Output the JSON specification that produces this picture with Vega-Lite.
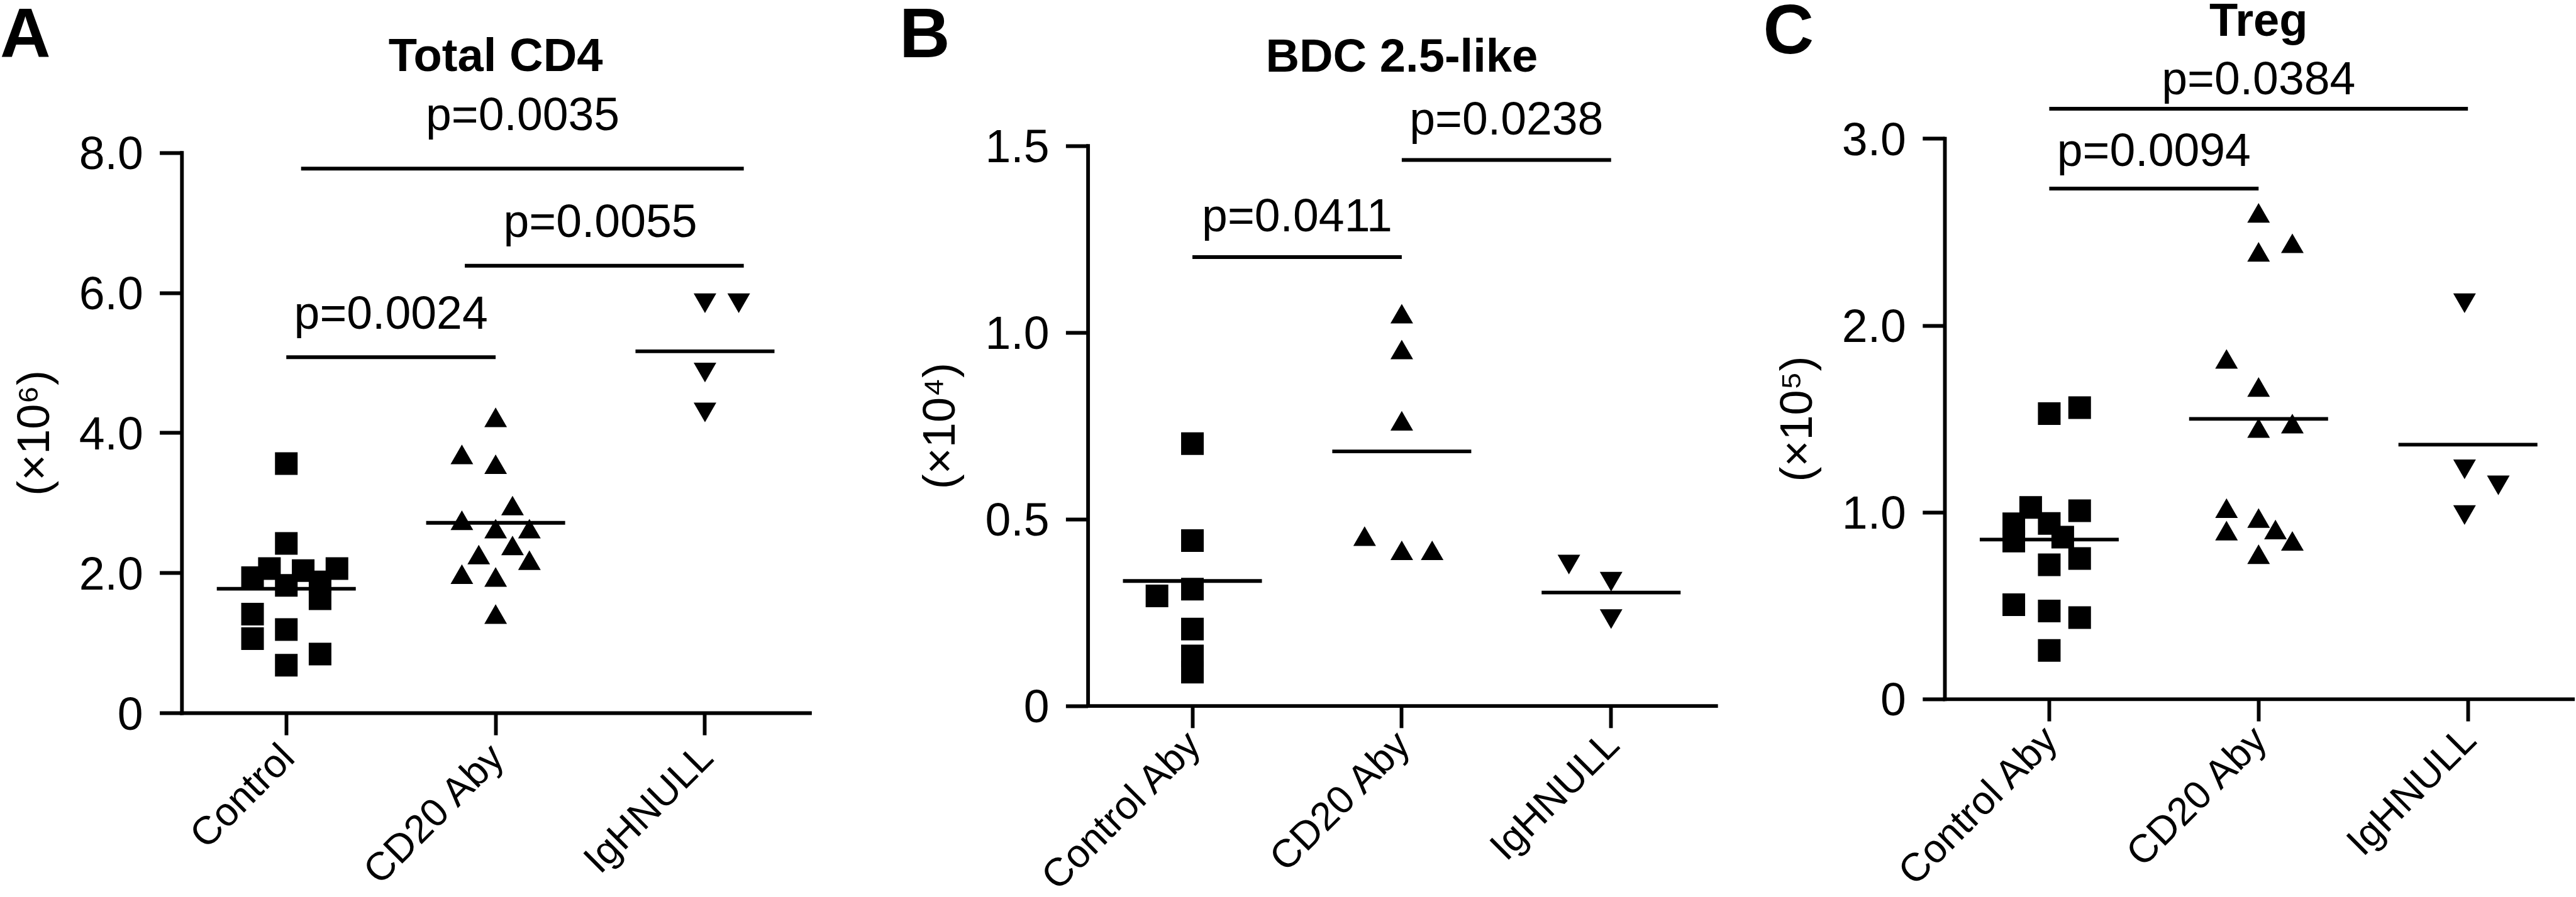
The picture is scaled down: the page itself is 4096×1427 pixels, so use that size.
{
  "$schema": "https://vega.github.io/schema/vega-lite/v6.json",
  "width": 4096,
  "height": 1427,
  "autosize": {"type": "none"},
  "padding": 0,
  "background": "white",
  "config": {
    "view": {"stroke": null},
    "axis": {"grid": false},
    "font": "Liberation Sans"
  },
  "datasets": {
    "panels": [
      {"panel": "A", "letter": "A", "title": "Total CD4"},
      {"panel": "B", "letter": "B", "title": "BDC 2.5-like"},
      {"panel": "C", "letter": "C", "title": "Treg"}
    ],
    "pts": [
      {"panel": "A", "group": "Control", "value": 3.56, "slot": 0},
      {"panel": "A", "group": "Control", "value": 2.42, "slot": 0},
      {"panel": "A", "group": "Control", "value": 2.06, "slot": -1},
      {"panel": "A", "group": "Control", "value": 1.93, "slot": -2},
      {"panel": "A", "group": "Control", "value": 2.03, "slot": 1},
      {"panel": "A", "group": "Control", "value": 2.06, "slot": 3},
      {"panel": "A", "group": "Control", "value": 1.82, "slot": 0},
      {"panel": "A", "group": "Control", "value": 1.87, "slot": 2},
      {"panel": "A", "group": "Control", "value": 1.63, "slot": 2},
      {"panel": "A", "group": "Control", "value": 1.41, "slot": -2},
      {"panel": "A", "group": "Control", "value": 1.06, "slot": -2},
      {"panel": "A", "group": "Control", "value": 1.19, "slot": 0},
      {"panel": "A", "group": "Control", "value": 0.84, "slot": 2},
      {"panel": "A", "group": "Control", "value": 0.68, "slot": 0},
      {"panel": "A", "group": "CD20 Aby", "value": 4.22, "slot": 0},
      {"panel": "A", "group": "CD20 Aby", "value": 3.69, "slot": -2},
      {"panel": "A", "group": "CD20 Aby", "value": 3.55, "slot": 0},
      {"panel": "A", "group": "CD20 Aby", "value": 2.96, "slot": 1},
      {"panel": "A", "group": "CD20 Aby", "value": 2.75, "slot": -2},
      {"panel": "A", "group": "CD20 Aby", "value": 2.63, "slot": 0},
      {"panel": "A", "group": "CD20 Aby", "value": 2.63, "slot": 2},
      {"panel": "A", "group": "CD20 Aby", "value": 2.26, "slot": -1},
      {"panel": "A", "group": "CD20 Aby", "value": 2.39, "slot": 1},
      {"panel": "A", "group": "CD20 Aby", "value": 2.18, "slot": 2},
      {"panel": "A", "group": "CD20 Aby", "value": 1.98, "slot": -2},
      {"panel": "A", "group": "CD20 Aby", "value": 1.94, "slot": 0},
      {"panel": "A", "group": "CD20 Aby", "value": 1.41, "slot": 0},
      {"panel": "A", "group": "IgHNULL", "value": 5.85, "slot": 0},
      {"panel": "A", "group": "IgHNULL", "value": 5.85, "slot": 2},
      {"panel": "A", "group": "IgHNULL", "value": 4.86, "slot": 0},
      {"panel": "A", "group": "IgHNULL", "value": 4.29, "slot": 0},
      {"panel": "B", "group": "Control Aby", "value": 0.702, "slot": 0},
      {"panel": "B", "group": "Control Aby", "value": 0.442, "slot": 0},
      {"panel": "B", "group": "Control Aby", "value": 0.294, "slot": -2.1},
      {"panel": "B", "group": "Control Aby", "value": 0.312, "slot": 0},
      {"panel": "B", "group": "Control Aby", "value": 0.205, "slot": 0},
      {"panel": "B", "group": "Control Aby", "value": 0.133, "slot": 0},
      {"panel": "B", "group": "Control Aby", "value": 0.09, "slot": 0},
      {"panel": "B", "group": "CD20 Aby", "value": 1.05, "slot": 0},
      {"panel": "B", "group": "CD20 Aby", "value": 0.954, "slot": 0},
      {"panel": "B", "group": "CD20 Aby", "value": 0.763, "slot": 0},
      {"panel": "B", "group": "CD20 Aby", "value": 0.454, "slot": -2.2},
      {"panel": "B", "group": "CD20 Aby", "value": 0.416, "slot": 0},
      {"panel": "B", "group": "CD20 Aby", "value": 0.416, "slot": 1.8},
      {"panel": "B", "group": "IgHNULL", "value": 0.378, "slot": -2.5},
      {"panel": "B", "group": "IgHNULL", "value": 0.332, "slot": 0},
      {"panel": "B", "group": "IgHNULL", "value": 0.232, "slot": 0},
      {"panel": "C", "group": "Control Aby", "value": 1.527, "slot": 0},
      {"panel": "C", "group": "Control Aby", "value": 1.559, "slot": 1.8},
      {"panel": "C", "group": "Control Aby", "value": 1.025, "slot": -1.1},
      {"panel": "C", "group": "Control Aby", "value": 0.938, "slot": -2.1},
      {"panel": "C", "group": "Control Aby", "value": 0.845, "slot": -2.1},
      {"panel": "C", "group": "Control Aby", "value": 0.939, "slot": 0},
      {"panel": "C", "group": "Control Aby", "value": 0.866, "slot": 0.8},
      {"panel": "C", "group": "Control Aby", "value": 1.007, "slot": 1.8},
      {"panel": "C", "group": "Control Aby", "value": 0.752, "slot": 1.8},
      {"panel": "C", "group": "Control Aby", "value": 0.718, "slot": 0},
      {"panel": "C", "group": "Control Aby", "value": 0.504, "slot": -2.1},
      {"panel": "C", "group": "Control Aby", "value": 0.471, "slot": 0},
      {"panel": "C", "group": "Control Aby", "value": 0.435, "slot": 1.8},
      {"panel": "C", "group": "Control Aby", "value": 0.26, "slot": 0},
      {"panel": "C", "group": "CD20 Aby", "value": 2.602, "slot": 0},
      {"panel": "C", "group": "CD20 Aby", "value": 2.393, "slot": 0},
      {"panel": "C", "group": "CD20 Aby", "value": 2.439, "slot": 2},
      {"panel": "C", "group": "CD20 Aby", "value": 1.82, "slot": -1.9},
      {"panel": "C", "group": "CD20 Aby", "value": 1.67, "slot": 0},
      {"panel": "C", "group": "CD20 Aby", "value": 1.474, "slot": 2},
      {"panel": "C", "group": "CD20 Aby", "value": 1.45, "slot": 0},
      {"panel": "C", "group": "CD20 Aby", "value": 1.021, "slot": -1.9},
      {"panel": "C", "group": "CD20 Aby", "value": 0.901, "slot": -1.9},
      {"panel": "C", "group": "CD20 Aby", "value": 0.968, "slot": 0},
      {"panel": "C", "group": "CD20 Aby", "value": 0.907, "slot": 1},
      {"panel": "C", "group": "CD20 Aby", "value": 0.846, "slot": 2},
      {"panel": "C", "group": "CD20 Aby", "value": 0.775, "slot": 0},
      {"panel": "C", "group": "IgHNULL", "value": 2.118, "slot": -0.2},
      {"panel": "C", "group": "IgHNULL", "value": 1.229, "slot": -0.2},
      {"panel": "C", "group": "IgHNULL", "value": 1.143, "slot": 1.8},
      {"panel": "C", "group": "IgHNULL", "value": 0.984, "slot": -0.2}
    ],
    "means": [
      {"panel": "A", "group": "Control", "mean": 1.772},
      {"panel": "A", "group": "CD20 Aby", "mean": 2.713},
      {"panel": "A", "group": "IgHNULL", "mean": 5.163},
      {"panel": "B", "group": "Control Aby", "mean": 0.334},
      {"panel": "B", "group": "CD20 Aby", "mean": 0.681},
      {"panel": "B", "group": "IgHNULL", "mean": 0.303},
      {"panel": "C", "group": "Control Aby", "mean": 0.853},
      {"panel": "C", "group": "CD20 Aby", "mean": 1.499},
      {"panel": "C", "group": "IgHNULL", "mean": 1.361}
    ],
    "brk": [
      {"panel": "A", "id": "A1", "from": "Control", "to": "CD20 Aby", "mid": "CD20 Aby", "value": 5.079, "ty": 5.486, "label": "p=0.0024"},
      {"panel": "A", "id": "A2", "from": "CD20 Aby", "to": "IgHNULL", "mid": "IgHNULL", "value": 6.385, "ty": 6.796, "label": "p=0.0055"},
      {"panel": "A", "id": "A3", "from": "Control", "to": "IgHNULL", "mid": "CD20 Aby", "value": 7.771, "ty": 8.318, "label": "p=0.0035"},
      {"panel": "B", "id": "B1", "from": "Control Aby", "to": "CD20 Aby", "mid": "CD20 Aby", "value": 1.2015, "ty": 1.27, "label": "p=0.0411"},
      {"panel": "B", "id": "B2", "from": "CD20 Aby", "to": "IgHNULL", "mid": "IgHNULL", "value": 1.4616, "ty": 1.53, "label": "p=0.0238"},
      {"panel": "C", "id": "C1", "from": "Control Aby", "to": "CD20 Aby", "mid": "CD20 Aby", "value": 2.732, "ty": 2.852, "label": "p=0.0094"},
      {"panel": "C", "id": "C2", "from": "Control Aby", "to": "IgHNULL", "mid": "CD20 Aby", "value": 3.159, "ty": 3.236, "label": "p=0.0384"}
    ]
  },
  "layer": [
    {
      "layer": [
        {
          "data": {"name": "pts"},
          "transform": [{"filter": "datum.panel == 'A'"}],
          "mark": {"type": "point", "filled": true, "size": 1296, "color": "black", "opacity": 1, "strokeWidth": 0},
          "encoding": {
            "x": {"field": "group", "type": "nominal",
              "scale": {"type": "band", "domain": ["Control", "CD20 Aby", "IgHNULL"], "range": [288.8, 1287.4], "paddingInner": 0, "paddingOuter": 0},
              "axis": {"orient": "bottom", "offset": -293.0, "title": null, "domainColor": "black", "domainWidth": 5.9, "domainCap": "square", "tickColor": "black", "tickWidth": 5.9, "tickSize": 35.2, "labelAngle": -45, "labelAlign": "right", "labelBaseline": "top", "labelFont": "Liberation Sans", "labelFontSize": 63, "labelColor": "black", "labelPadding": 4, "labelOffset": -19, "labelLimit": 1000, "labelOverlap": false, "grid": false}},
            "xOffset": {"field": "slot", "type": "quantitative", "scale": {"domain": [-6.2, 6.2], "range": [0, 332.87]}},
            "y": {"field": "value", "type": "quantitative",
              "scale": {"domain": [0, 8], "range": [1134.0, 242.8], "nice": false, "zero": false},
              "axis": {"orient": "left", "offset": -288.8, "values": [0, 2, 4, 6, 8], "labelExpr": "datum.value == 0 ? '0' : format(datum.value, '.1f')", "title": "(×10⁶)", "titleFont": "Liberation Sans", "titleFontSize": 72, "titleFontWeight": "normal", "titleColor": "black", "titlePadding": 33, "domainColor": "black", "domainWidth": 5.9, "domainCap": "square", "tickColor": "black", "tickWidth": 5.9, "tickSize": 35.2, "labelFont": "Liberation Sans", "labelFontSize": 73.4, "labelColor": "black", "labelPadding": 26.4, "labelOffset": 4, "labelOverlap": false, "labelFlush": false, "grid": false}},
            "shape": {"field": "group", "type": "nominal", "scale": {"domain": ["Control", "Control Aby", "CD20 Aby", "IgHNULL"], "range": ["square", "square", "triangle-up", "triangle-down"]}, "legend": null}
          }
        },
        {
          "data": {"name": "means"},
          "transform": [{"filter": "datum.panel == 'A'"}],
          "mark": {"type": "tick", "orient": "horizontal", "size": 221, "thickness": 5.9, "color": "black", "opacity": 1},
          "encoding": {
            "x": {"field": "group", "type": "nominal", "scale": {"type": "band", "domain": ["Control", "CD20 Aby", "IgHNULL"], "range": [288.8, 1287.4], "paddingInner": 0, "paddingOuter": 0}},
            "y": {"field": "mean", "type": "quantitative", "scale": {"domain": [0, 8], "range": [1134.0, 242.8], "nice": false, "zero": false}}
          }
        },
        {
          "data": {"name": "brk"},
          "transform": [{"filter": "datum.id == 'A1'"}],
          "mark": {"type": "rule", "color": "black", "strokeWidth": 5.9},
          "encoding": {
            "x": {"field": "from", "type": "nominal", "bandPosition": 0.5, "scale": {"type": "band", "domain": ["Control", "CD20 Aby", "IgHNULL"], "range": [288.8, 1287.4], "paddingInner": 0, "paddingOuter": 0}},
            "x2": {"field": "to", "bandPosition": 0.5},
            "y": {"field": "value", "type": "quantitative", "scale": {"domain": [0, 8], "range": [1134.0, 242.8], "nice": false, "zero": false}}
          }
        },
        {
          "data": {"name": "brk"},
          "transform": [{"filter": "datum.id == 'A2'"}],
          "mark": {"type": "rule", "color": "black", "strokeWidth": 5.9, "xOffset": -49, "x2Offset": 61.7},
          "encoding": {
            "x": {"field": "from", "type": "nominal", "bandPosition": 0.5, "scale": {"type": "band", "domain": ["Control", "CD20 Aby", "IgHNULL"], "range": [288.8, 1287.4], "paddingInner": 0, "paddingOuter": 0}},
            "x2": {"field": "to", "bandPosition": 0.5},
            "y": {"field": "value", "type": "quantitative", "scale": {"domain": [0, 8], "range": [1134.0, 242.8], "nice": false, "zero": false}}
          }
        },
        {
          "data": {"name": "brk"},
          "transform": [{"filter": "datum.id == 'A3'"}],
          "mark": {"type": "rule", "color": "black", "strokeWidth": 5.9, "xOffset": 23.5, "x2Offset": 61.7},
          "encoding": {
            "x": {"field": "from", "type": "nominal", "bandPosition": 0.5, "scale": {"type": "band", "domain": ["Control", "CD20 Aby", "IgHNULL"], "range": [288.8, 1287.4], "paddingInner": 0, "paddingOuter": 0}},
            "x2": {"field": "to", "bandPosition": 0.5},
            "y": {"field": "value", "type": "quantitative", "scale": {"domain": [0, 8], "range": [1134.0, 242.8], "nice": false, "zero": false}}
          }
        },
        {
          "data": {"name": "brk"},
          "transform": [{"filter": "datum.id == 'A1' || datum.id == 'A2'"}],
          "mark": {"type": "text", "font": "Liberation Sans", "fontSize": 73.4, "align": "center", "baseline": "alphabetic", "color": "black"},
          "encoding": {
            "x": {"field": "to", "type": "nominal", "bandPosition": 0, "scale": {"type": "band", "domain": ["Control", "CD20 Aby", "IgHNULL"], "range": [288.8, 1287.4], "paddingInner": 0, "paddingOuter": 0}},
            "y": {"field": "ty", "type": "quantitative", "scale": {"domain": [0, 8], "range": [1134.0, 242.8], "nice": false, "zero": false}},
            "text": {"field": "label"}
          }
        },
        {
          "data": {"name": "brk"},
          "transform": [{"filter": "datum.id == 'A3'"}],
          "mark": {"type": "text", "font": "Liberation Sans", "fontSize": 73.4, "align": "center", "baseline": "alphabetic", "color": "black", "dx": 43},
          "encoding": {
            "x": {"field": "mid", "type": "nominal", "bandPosition": 0.5, "scale": {"type": "band", "domain": ["Control", "CD20 Aby", "IgHNULL"], "range": [288.8, 1287.4], "paddingInner": 0, "paddingOuter": 0}},
            "y": {"field": "ty", "type": "quantitative", "scale": {"domain": [0, 8], "range": [1134.0, 242.8], "nice": false, "zero": false}},
            "text": {"field": "label"}
          }
        },
        {
          "data": {"name": "panels"},
          "transform": [{"filter": "datum.panel == 'A'"}],
          "mark": {"type": "text", "font": "Liberation Sans", "fontWeight": "bold", "fontSize": 74.2, "align": "center", "baseline": "alphabetic", "color": "black"},
          "encoding": {
            "x": {"datum": "CD20 Aby", "type": "nominal", "scale": {"type": "band", "domain": ["Control", "CD20 Aby", "IgHNULL"], "range": [288.8, 1287.4], "paddingInner": 0, "paddingOuter": 0}},
            "y": {"datum": 9.164, "type": "quantitative", "scale": {"domain": [0, 8], "range": [1134.0, 242.8], "nice": false, "zero": false}},
            "text": {"field": "title"}
          }
        },
        {
          "data": {"name": "panels"},
          "transform": [{"filter": "datum.panel == 'A'"}],
          "mark": {"type": "text", "font": "Liberation Sans", "fontWeight": "bold", "fontSize": 111.6, "align": "left", "baseline": "alphabetic", "color": "black", "dx": -288.8},
          "encoding": {
            "x": {"datum": "Control", "type": "nominal", "bandPosition": 0, "scale": {"type": "band", "domain": ["Control", "CD20 Aby", "IgHNULL"], "range": [288.8, 1287.4], "paddingInner": 0, "paddingOuter": 0}},
            "y": {"datum": 9.365, "type": "quantitative", "scale": {"domain": [0, 8], "range": [1134.0, 242.8], "nice": false, "zero": false}},
            "text": {"field": "letter"}
          }
        }
      ]
    },
    {
      "layer": [
        {
          "data": {"name": "pts"},
          "transform": [{"filter": "datum.panel == 'B'"}],
          "mark": {"type": "point", "filled": true, "size": 1296, "color": "black", "opacity": 1, "strokeWidth": 0},
          "encoding": {
            "x": {"field": "group", "type": "nominal",
              "scale": {"type": "band", "domain": ["Control Aby", "CD20 Aby", "IgHNULL"], "range": [1729.6, 2728.2], "paddingInner": 0, "paddingOuter": 0},
              "axis": {"orient": "bottom", "offset": -304.4, "title": null, "domainColor": "black", "domainWidth": 5.9, "domainCap": "square", "tickColor": "black", "tickWidth": 5.9, "tickSize": 35.2, "labelAngle": -45, "labelAlign": "right", "labelBaseline": "top", "labelFont": "Liberation Sans", "labelFontSize": 63, "labelColor": "black", "labelPadding": -5, "labelOffset": -19, "labelLimit": 1000, "labelOverlap": false, "grid": false}},
            "xOffset": {"field": "slot", "type": "quantitative", "scale": {"domain": [-6.2, 6.2], "range": [0, 332.87]}},
            "y": {"field": "value", "type": "quantitative",
              "scale": {"domain": [0, 1.5], "range": [1122.6, 231.7], "nice": false, "zero": false},
              "axis": {"orient": "left", "offset": -1729.6, "values": [0, 0.5, 1, 1.5], "labelExpr": "datum.value == 0 ? '0' : format(datum.value, '.1f')", "title": "(×10⁴)", "titleFont": "Liberation Sans", "titleFontSize": 72, "titleFontWeight": "normal", "titleColor": "black", "titlePadding": 33, "domainColor": "black", "domainWidth": 5.9, "domainCap": "square", "tickColor": "black", "tickWidth": 5.9, "tickSize": 35.2, "labelFont": "Liberation Sans", "labelFontSize": 73.4, "labelColor": "black", "labelPadding": 26.4, "labelOffset": 4, "labelOverlap": false, "labelFlush": false, "grid": false}},
            "shape": {"field": "group", "type": "nominal", "scale": {"domain": ["Control", "Control Aby", "CD20 Aby", "IgHNULL"], "range": ["square", "square", "triangle-up", "triangle-down"]}, "legend": null}
          }
        },
        {
          "data": {"name": "means"},
          "transform": [{"filter": "datum.panel == 'B'"}],
          "mark": {"type": "tick", "orient": "horizontal", "size": 221, "thickness": 5.9, "color": "black", "opacity": 1},
          "encoding": {
            "x": {"field": "group", "type": "nominal", "scale": {"type": "band", "domain": ["Control Aby", "CD20 Aby", "IgHNULL"], "range": [1729.6, 2728.2], "paddingInner": 0, "paddingOuter": 0}},
            "y": {"field": "mean", "type": "quantitative", "scale": {"domain": [0, 1.5], "range": [1122.6, 231.7], "nice": false, "zero": false}}
          }
        },
        {
          "data": {"name": "brk"},
          "transform": [{"filter": "datum.panel == 'B'"}],
          "mark": {"type": "rule", "color": "black", "strokeWidth": 5.9},
          "encoding": {
            "x": {"field": "from", "type": "nominal", "bandPosition": 0.5, "scale": {"type": "band", "domain": ["Control Aby", "CD20 Aby", "IgHNULL"], "range": [1729.6, 2728.2], "paddingInner": 0, "paddingOuter": 0}},
            "x2": {"field": "to", "bandPosition": 0.5},
            "y": {"field": "value", "type": "quantitative", "scale": {"domain": [0, 1.5], "range": [1122.6, 231.7], "nice": false, "zero": false}}
          }
        },
        {
          "data": {"name": "brk"},
          "transform": [{"filter": "datum.panel == 'B'"}],
          "mark": {"type": "text", "font": "Liberation Sans", "fontSize": 73.4, "align": "center", "baseline": "alphabetic", "color": "black"},
          "encoding": {
            "x": {"field": "to", "type": "nominal", "bandPosition": 0, "scale": {"type": "band", "domain": ["Control Aby", "CD20 Aby", "IgHNULL"], "range": [1729.6, 2728.2], "paddingInner": 0, "paddingOuter": 0}},
            "y": {"field": "ty", "type": "quantitative", "scale": {"domain": [0, 1.5], "range": [1122.6, 231.7], "nice": false, "zero": false}},
            "text": {"field": "label"}
          }
        },
        {
          "data": {"name": "panels"},
          "transform": [{"filter": "datum.panel == 'B'"}],
          "mark": {"type": "text", "font": "Liberation Sans", "fontWeight": "bold", "fontSize": 74.2, "align": "center", "baseline": "alphabetic", "color": "black"},
          "encoding": {
            "x": {"datum": "CD20 Aby", "type": "nominal", "scale": {"type": "band", "domain": ["Control Aby", "CD20 Aby", "IgHNULL"], "range": [1729.6, 2728.2], "paddingInner": 0, "paddingOuter": 0}},
            "y": {"datum": 1.699, "type": "quantitative", "scale": {"domain": [0, 1.5], "range": [1122.6, 231.7], "nice": false, "zero": false}},
            "text": {"field": "title"}
          }
        },
        {
          "data": {"name": "panels"},
          "transform": [{"filter": "datum.panel == 'B'"}],
          "mark": {"type": "text", "font": "Liberation Sans", "fontWeight": "bold", "fontSize": 111.6, "align": "left", "baseline": "alphabetic", "color": "black", "dx": -299.7},
          "encoding": {
            "x": {"datum": "Control Aby", "type": "nominal", "bandPosition": 0, "scale": {"type": "band", "domain": ["Control Aby", "CD20 Aby", "IgHNULL"], "range": [1729.6, 2728.2], "paddingInner": 0, "paddingOuter": 0}},
            "y": {"datum": 1.737, "type": "quantitative", "scale": {"domain": [0, 1.5], "range": [1122.6, 231.7], "nice": false, "zero": false}},
            "text": {"field": "letter"}
          }
        }
      ]
    },
    {
      "layer": [
        {
          "data": {"name": "pts"},
          "transform": [{"filter": "datum.panel == 'C'"}],
          "mark": {"type": "point", "filled": true, "size": 1296, "color": "black", "opacity": 1, "strokeWidth": 0},
          "encoding": {
            "x": {"field": "group", "type": "nominal",
              "scale": {"type": "band", "domain": ["Control Aby", "CD20 Aby", "IgHNULL"], "range": [3092.0, 4090.6], "paddingInner": 0, "paddingOuter": 0},
              "axis": {"orient": "bottom", "offset": -315.1, "title": null, "domainColor": "black", "domainWidth": 5.9, "domainCap": "square", "tickColor": "black", "tickWidth": 5.9, "tickSize": 35.2, "labelAngle": -45, "labelAlign": "right", "labelBaseline": "top", "labelFont": "Liberation Sans", "labelFontSize": 63, "labelColor": "black", "labelPadding": -2, "labelOffset": -19, "labelLimit": 1000, "labelOverlap": false, "grid": false}},
            "xOffset": {"field": "slot", "type": "quantitative", "scale": {"domain": [-6.2, 6.2], "range": [0, 332.87]}},
            "y": {"field": "value", "type": "quantitative",
              "scale": {"domain": [0, 3], "range": [1111.9, 220.3], "nice": false, "zero": false},
              "axis": {"orient": "left", "offset": -3092.0, "values": [0, 1, 2, 3], "labelExpr": "datum.value == 0 ? '0' : format(datum.value, '.1f')", "title": "(×10⁵)", "titleFont": "Liberation Sans", "titleFontSize": 72, "titleFontWeight": "normal", "titleColor": "black", "titlePadding": 33, "domainColor": "black", "domainWidth": 5.9, "domainCap": "square", "tickColor": "black", "tickWidth": 5.9, "tickSize": 35.2, "labelFont": "Liberation Sans", "labelFontSize": 73.4, "labelColor": "black", "labelPadding": 26.4, "labelOffset": 4, "labelOverlap": false, "labelFlush": false, "grid": false}},
            "shape": {"field": "group", "type": "nominal", "scale": {"domain": ["Control", "Control Aby", "CD20 Aby", "IgHNULL"], "range": ["square", "square", "triangle-up", "triangle-down"]}, "legend": null}
          }
        },
        {
          "data": {"name": "means"},
          "transform": [{"filter": "datum.panel == 'C'"}],
          "mark": {"type": "tick", "orient": "horizontal", "size": 221, "thickness": 5.9, "color": "black", "opacity": 1},
          "encoding": {
            "x": {"field": "group", "type": "nominal", "scale": {"type": "band", "domain": ["Control Aby", "CD20 Aby", "IgHNULL"], "range": [3092.0, 4090.6], "paddingInner": 0, "paddingOuter": 0}},
            "y": {"field": "mean", "type": "quantitative", "scale": {"domain": [0, 3], "range": [1111.9, 220.3], "nice": false, "zero": false}}
          }
        },
        {
          "data": {"name": "brk"},
          "transform": [{"filter": "datum.panel == 'C'"}],
          "mark": {"type": "rule", "color": "black", "strokeWidth": 5.9},
          "encoding": {
            "x": {"field": "from", "type": "nominal", "bandPosition": 0.5, "scale": {"type": "band", "domain": ["Control Aby", "CD20 Aby", "IgHNULL"], "range": [3092.0, 4090.6], "paddingInner": 0, "paddingOuter": 0}},
            "x2": {"field": "to", "bandPosition": 0.5},
            "y": {"field": "value", "type": "quantitative", "scale": {"domain": [0, 3], "range": [1111.9, 220.3], "nice": false, "zero": false}}
          }
        },
        {
          "data": {"name": "brk"},
          "transform": [{"filter": "datum.id == 'C1'"}],
          "mark": {"type": "text", "font": "Liberation Sans", "fontSize": 73.4, "align": "center", "baseline": "alphabetic", "color": "black"},
          "encoding": {
            "x": {"field": "to", "type": "nominal", "bandPosition": 0, "scale": {"type": "band", "domain": ["Control Aby", "CD20 Aby", "IgHNULL"], "range": [3092.0, 4090.6], "paddingInner": 0, "paddingOuter": 0}},
            "y": {"field": "ty", "type": "quantitative", "scale": {"domain": [0, 3], "range": [1111.9, 220.3], "nice": false, "zero": false}},
            "text": {"field": "label"}
          }
        },
        {
          "data": {"name": "brk"},
          "transform": [{"filter": "datum.id == 'C2'"}],
          "mark": {"type": "text", "font": "Liberation Sans", "fontSize": 73.4, "align": "center", "baseline": "alphabetic", "color": "black"},
          "encoding": {
            "x": {"field": "mid", "type": "nominal", "bandPosition": 0.5, "scale": {"type": "band", "domain": ["Control Aby", "CD20 Aby", "IgHNULL"], "range": [3092.0, 4090.6], "paddingInner": 0, "paddingOuter": 0}},
            "y": {"field": "ty", "type": "quantitative", "scale": {"domain": [0, 3], "range": [1111.9, 220.3], "nice": false, "zero": false}},
            "text": {"field": "label"}
          }
        },
        {
          "data": {"name": "panels"},
          "transform": [{"filter": "datum.panel == 'C'"}],
          "mark": {"type": "text", "font": "Liberation Sans", "fontWeight": "bold", "fontSize": 74.2, "align": "center", "baseline": "alphabetic", "color": "black"},
          "encoding": {
            "x": {"datum": "CD20 Aby", "type": "nominal", "scale": {"type": "band", "domain": ["Control Aby", "CD20 Aby", "IgHNULL"], "range": [3092.0, 4090.6], "paddingInner": 0, "paddingOuter": 0}},
            "y": {"datum": 3.548, "type": "quantitative", "scale": {"domain": [0, 3], "range": [1111.9, 220.3], "nice": false, "zero": false}},
            "text": {"field": "title"}
          }
        },
        {
          "data": {"name": "panels"},
          "transform": [{"filter": "datum.panel == 'C'"}],
          "mark": {"type": "text", "font": "Liberation Sans", "fontWeight": "bold", "fontSize": 111.6, "align": "left", "baseline": "alphabetic", "color": "black", "dx": -288.4},
          "encoding": {
            "x": {"datum": "Control Aby", "type": "nominal", "bandPosition": 0, "scale": {"type": "band", "domain": ["Control Aby", "CD20 Aby", "IgHNULL"], "range": [3092.0, 4090.6], "paddingInner": 0, "paddingOuter": 0}},
            "y": {"datum": 3.455, "type": "quantitative", "scale": {"domain": [0, 3], "range": [1111.9, 220.3], "nice": false, "zero": false}},
            "text": {"field": "letter"}
          }
        }
      ]
    }
  ],
  "resolve": {
    "scale": {"x": "independent", "y": "independent", "xOffset": "independent"},
    "axis": {"x": "independent", "y": "independent"}
  }
}
